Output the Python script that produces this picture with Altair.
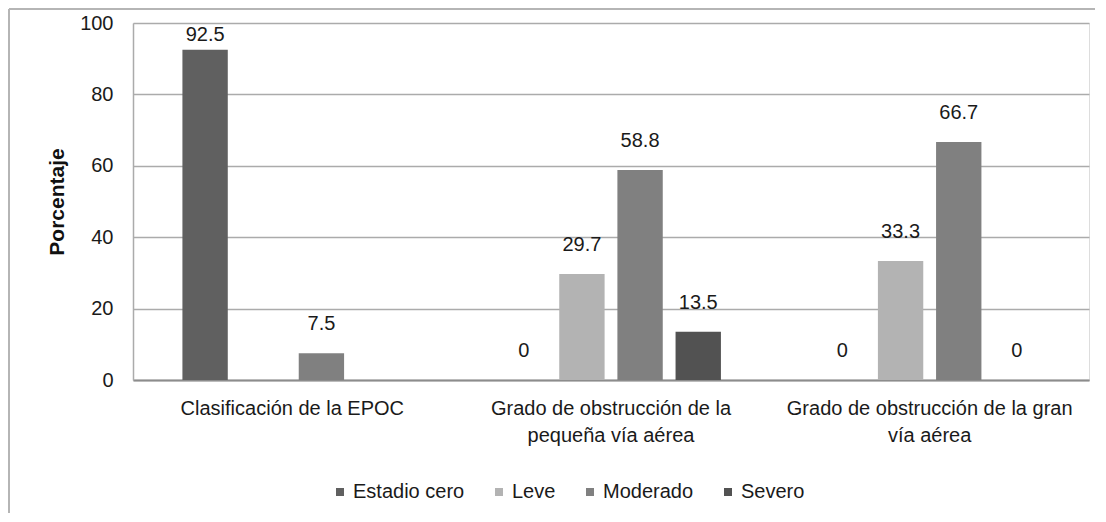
import altair as alt
import pandas as pd

categories = [
    "Clasificación de la EPOC",
    "Grado de  obstrucción de la\npequeña vía aérea",
    "Grado de  obstrucción de la gran\nvía aérea",
]
series = ["Estadio cero", "Leve", "Moderado", "Severo"]
estadio_cero = [92.5, 0, 0]
leve = [None, 29.7, 33.3]
moderado = [7.5, 58.8, 66.7]
severo = [None, 13.5, 0]
colors = ["#606060", "#b3b3b3", "#808080", "#525252"]

rows = []
for s, vals in zip(series, [estadio_cero, leve, moderado, severo]):
    for c, v in zip(categories, vals):
        rows.append({"categoria": c, "serie": s, "valor": v})
df = pd.DataFrame(rows)

FONT = "Liberation Sans"

x_enc = alt.X(
    "categoria:N",
    sort=categories,
    title=None,
    scale=alt.Scale(paddingInner=0.27, paddingOuter=0.135),
    axis=alt.Axis(
        labelExpr="split(datum.label, '\\n')",
        labelAngle=0,
        labelPadding=18,
        labelLineHeight=27,
        labelFontSize=20,
        labelLimit=0,
        ticks=False,
        grid=False,
        domainColor="#8c8c8c",
        domainWidth=2,
        labelColor="#1a1a1a",
        labelFont=FONT,
    ),
)
xoff = alt.XOffset(
    "serie:N",
    sort=series,
    scale=alt.Scale(paddingInner=0.22, paddingOuter=0.11),
)

base = alt.Chart(df)

bars = base.mark_bar().encode(
    x=x_enc,
    xOffset=xoff,
    y=alt.Y(
        "valor:Q",
        title="Porcentaje",
        scale=alt.Scale(domain=[0, 100]),
        axis=alt.Axis(
            values=[0, 20, 40, 60, 80, 100],
            ticks=False,
            labelPadding=20,
            labelFontSize=20,
            labelFont=FONT,
            labelColor="#1a1a1a",
            titleFont=FONT,
            titleFontSize=21,
            titleFontWeight="bold",
            titleColor="#111111",
            titlePadding=12,
            gridColor="#ababab",
            gridWidth=1.5,
            domainColor="#ababab",
            domainWidth=1.5,
        ),
    ),
    color=alt.Color(
        "serie:N",
        sort=series,
        scale=alt.Scale(domain=series, range=colors),
        legend=alt.Legend(
            title=None,
            orient="none",
            legendX=197,
            legendY=459,
            direction="horizontal",
            symbolType="square",
            symbolSize=64,
            symbolStrokeWidth=0,
            labelFont=FONT,
            labelFontSize=20,
            labelColor="#1a1a1a",
            labelOffset=3,
            columnPadding=24,
            padding=0,
        ),
    ),
)

labels = (
    base.transform_filter("isValid(datum.valor)")
    .transform_calculate(pos="min(datum.valor + 5.3, 93.8)")
    .mark_text(baseline="bottom", fontSize=20, font=FONT, color="#1a1a1a")
    .encode(
        x=alt.X("categoria:N", sort=categories),
        xOffset=alt.XOffset("serie:N", sort=series),
        y=alt.Y("pos:Q"),
        text=alt.Text("valor:Q"),
    )
)

deco_data = alt.Data(values=[{"k": 1}])
top_rule = alt.Chart(deco_data).mark_rule(clip=False, color="#b5b5b5", strokeWidth=2).encode(
    x=alt.value(-124), x2=alt.value(962), y=alt.value(-14)
)
left_rule = alt.Chart(deco_data).mark_rule(clip=False, color="#b5b5b5", strokeWidth=2).encode(
    x=alt.value(-124), y=alt.value(-14), y2=alt.value(490)
)

chart = (
    alt.layer(bars, labels, top_rule, left_rule)
    .properties(width=956, height=357, padding=0)
    .configure_view(strokeWidth=0, stroke="transparent")
    .configure(background="white")
)

chart.save("out.html", embed_options={"renderer": "svg", "actions": False})
